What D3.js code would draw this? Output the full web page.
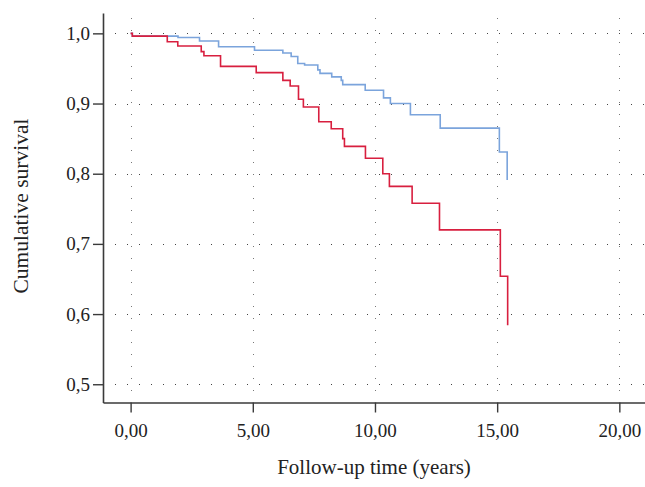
<!DOCTYPE html>
<html>
<head>
<meta charset="utf-8">
<script src="https://cdn.jsdelivr.net/npm/d3@7"></script>
<style>
  body { margin: 0; background: #fff; }
  svg { display: block; font-family: "Liberation Serif", "DejaVu Serif", serif; }
</style>
</head>
<body>
<div id="chart"></div>
<script>
var WIDTH = 645, HEIGHT = 487;

// survival steps: time (years) and cumulative survival
var blueTimes = [0, 0.07, 1.94, 2.82, 3.6, 5.07, 6.23, 6.57, 6.84, 7.12, 7.66, 7.75, 8.23, 8.62, 8.68, 9.6, 10.35, 10.63, 11.45, 12.67, 15.09, 15.41];
var blueSurv  = [1.0, 0.996, 0.994, 0.989, 0.981, 0.976, 0.972, 0.967, 0.957, 0.955, 0.948, 0.943, 0.938, 0.933, 0.927, 0.919, 0.908, 0.900, 0.884, 0.865, 0.831, 0.791];

var redTimes = [0, 0.07, 1.5, 1.93, 2.89, 3.0, 3.68, 5.14, 6.23, 6.53, 6.87, 7.07, 7.70, 8.21, 8.68, 8.75, 9.61, 10.32, 10.59, 11.52, 12.64, 15.13, 15.43];
var redSurv  = [1.0, 0.996, 0.988, 0.982, 0.974, 0.968, 0.953, 0.944, 0.933, 0.925, 0.906, 0.895, 0.874, 0.864, 0.850, 0.839, 0.822, 0.800, 0.782, 0.758, 0.720, 0.654, 0.584];

var xTicks = [0, 5, 10, 15, 20];
var yTicks = [0.5, 0.6, 0.7, 0.8, 0.9, 1.0];

var BLUE = '#7ba4dc', RED = '#d81f3f', AXIS = '#3a3a3a';

var svg = d3.select('#chart')
    .append('svg')
    .attr('width', WIDTH)
    .attr('height', HEIGHT);

var x = d3.scaleLinear().domain([-1.13, 21.05]).range([103, 645]);
var y = d3.scaleLinear().domain([0.474, 1.029]).range([402.5, 13]);

//dotted grid
var grid = svg.append('g').attr('class', 'grid');
grid.selectAll('line.h')
    .data(yTicks)
    .enter().append('line')
    .attr('class', 'h')
    .attr('x1', 104).attr('x2', 645)
    .attr('y1', d => Math.round(y(d)) + 0.5)
    .attr('y2', d => Math.round(y(d)) + 0.5)
    .attr('stroke', '#444')
    .attr('stroke-width', 1)
    .attr('stroke-dasharray', '1,11')
    .attr('stroke-dashoffset', -11);
grid.selectAll('line.v')
    .data(xTicks)
    .enter().append('line')
    .attr('class', 'v')
    .attr('y1', 18).attr('y2', 402)
    .attr('x1', d => Math.round(x(d)) + 0.5)
    .attr('x2', d => Math.round(x(d)) + 0.5)
    .attr('stroke', '#777')
    .attr('stroke-width', 1)
    .attr('stroke-dasharray', '1,11');

//axes
var xAxis = d3.axisBottom(x)
    .tickValues(xTicks)
    .tickSize(10)
    .tickSizeOuter(0)
    .tickPadding(11)
    .tickFormat(d => d3.format('.2f')(d).replace('.', ','));
var yAxis = d3.axisLeft(y)
    .tickValues(yTicks)
    .tickSize(10)
    .tickSizeOuter(0)
    .tickPadding(3)
    .tickFormat(d => d3.format('.1f')(d).replace('.', ','));

var gx = svg.append('g')
    .attr('transform', 'translate(0,' + y.range()[0] + ')')
    .call(xAxis);
var gy = svg.append('g')
    .attr('transform', 'translate(' + x.range()[0] + ',0)')
    .call(yAxis);

[gx, gy].forEach(function(g) {
    g.select('.domain').attr('stroke', AXIS).attr('stroke-width', 1.6);
    g.selectAll('.tick line').attr('stroke', AXIS).attr('stroke-width', 1.4);
    g.selectAll('.tick text')
        .attr('fill', '#222')
        .style('font-family', '"Liberation Serif", serif')
        .style('font-size', '19px');
});

//curves
var line = d3.line()
    .x(d => x(d[0]))
    .y(d => y(d[1]))
    .curve(d3.curveStepAfter);

var series = [
    {color: BLUE, pts: d3.zip(blueTimes, blueSurv)},
    {color: RED, pts: d3.zip(redTimes, redSurv)}
];
svg.append('g').selectAll('path')
    .data(series)
    .enter().append('path')
    .attr('d', d => line(d.pts))
    .attr('fill', 'none')
    .attr('stroke', d => d.color)
    .attr('stroke-width', 1.6);

//titles
svg.append('text')
    .attr('x', 374)
    .attr('y', 474)
    .attr('text-anchor', 'middle')
    .attr('fill', '#222')
    .style('font-size', '21px')
    .text('Follow-up time (years)');
svg.append('text')
    .attr('transform', 'translate(28,206) rotate(-90)')
    .attr('text-anchor', 'middle')
    .attr('fill', '#222')
    .style('font-size', '21.5px')
    .text('Cumulative survival');
</script>
</body>
</html>
